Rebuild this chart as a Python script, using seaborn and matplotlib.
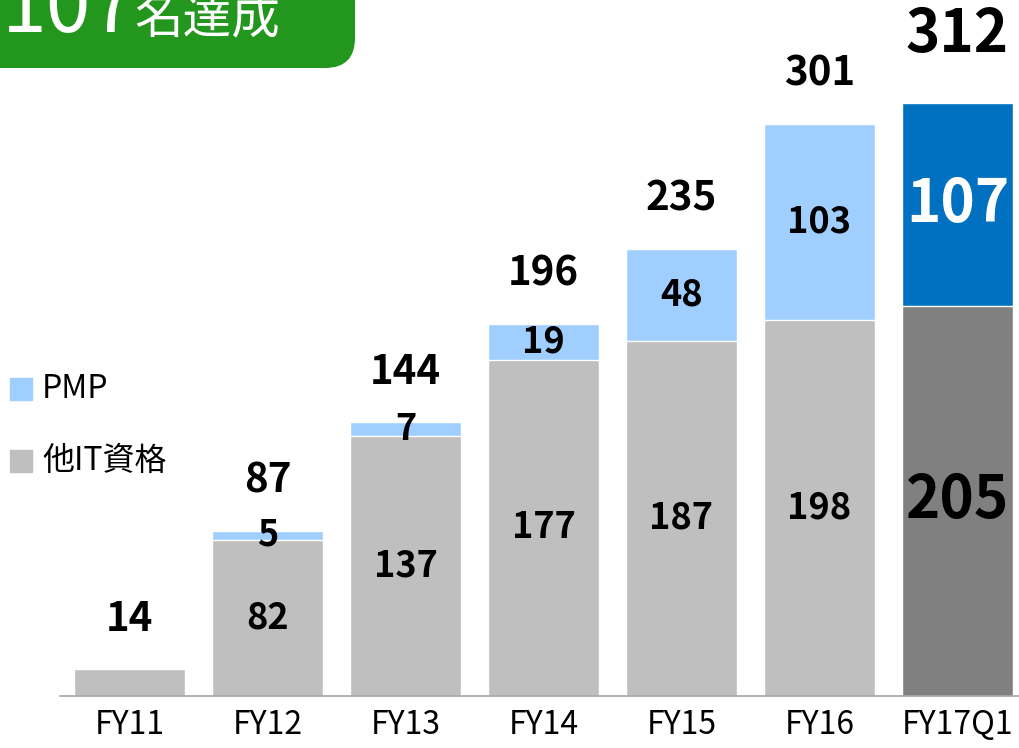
import matplotlib
matplotlib.use("Agg")
import matplotlib.pyplot as plt
import seaborn as sns
from matplotlib.patches import FancyBboxPatch, Rectangle

# ------------------------------------------------------------
# DATA
# ------------------------------------------------------------
years = ["FY11", "FY12", "FY13", "FY14", "FY15", "FY16", "FY17Q1"]
other_it = [14, 82, 137, 177, 187, 198, 205]
pmp = [0, 5, 7, 19, 48, 103, 107]
totals = [o + p for o, p in zip(other_it, pmp)]

legend_labels = ["PMP", "他IT資格"]
banner_number = "107"
banner_text = "名達成"

# colours (last bar highlighted)
pmp_colors = ["#A0CFFF"] * 6 + ["#0070C0"]
other_colors = ["#BFBFBF"] * 6 + ["#808080"]

sns.set_theme(style="white")
plt.rcParams["font.family"] = ["Noto Sans CJK JP", "DejaVu Sans"]

fig = plt.figure(figsize=(10.19, 7.48), dpi=100)
ax = fig.add_axes([60 / 1019, 1 - 696 / 748, 959 / 1019, 696 / 748])

# stacked bars: total first (PMP colour), then other IT on top of it
sns.barplot(x=years, y=totals, hue=years, palette=pmp_colors,
            width=0.804, saturation=1, legend=False, ax=ax)
sns.barplot(x=years, y=other_it, hue=years, palette=other_colors,
            width=0.804, saturation=1, legend=False, ax=ax)

ax.set_xlim(-0.504, 6.446)
ax.set_ylim(0, 366.3)
ax.set_yticks([])
ax.set_ylabel("")
for s in ["left", "right", "top"]:
    ax.spines[s].set_visible(False)
ax.spines["bottom"].set_color("#A6A6A6")
ax.spines["bottom"].set_linewidth(1.2)
ax.tick_params(axis="x", length=0, pad=9, labelsize=23, labelcolor="black")

# ------------------------------------------------------------
# LABELS
# ------------------------------------------------------------
last = len(years) - 1
for i, (o, p, t) in enumerate(zip(other_it, pmp, totals)):
    big = i == last
    ax.annotate(str(t), (i, t), xytext=(0, 49 if big else 36),
                textcoords="offset points", ha="center", va="center",
                fontsize=42 if big else 29, fontweight="bold", color="black")
    if p > 0:
        ax.text(i, o + p / 2, str(p), ha="center", va="center",
                fontsize=42 if big else 26, fontweight="bold",
                color="white" if big else "black")
    if i > 0:
        ax.text(i, o / 2, str(o), ha="center", va="center",
                fontsize=42 if big else 26, fontweight="bold", color="black")

# legend (manual squares)
for lab, col, ypx in zip(legend_labels, ["#A0CFFF", "#BFBFBF"], [389, 461]):
    fig.patches.append(Rectangle((10 / 1019, 1 - (ypx + 11) / 748), 22 / 1019, 22 / 748,
                                 transform=fig.transFigure, color=col))
    fig.text(42 / 1019, 1 - ypx / 748, lab, ha="left", va="center",
             fontsize=23, color="black")

# green banner in the top-left corner
banner = FancyBboxPatch((-0.5, 6.80), 4.05, 1.5,
                        boxstyle="round,pad=0,rounding_size=0.3",
                        transform=fig.dpi_scale_trans, facecolor="#23961E",
                        edgecolor="none")
fig.patches.append(banner)
fig.text(0.02, 7.16, banner_number, transform=fig.dpi_scale_trans,
         ha="left", va="baseline", fontsize=58, color="white")
fig.text(1.34, 7.16, banner_text, transform=fig.dpi_scale_trans,
         ha="left", va="baseline", fontsize=35, color="white")

fig.savefig("out.png", dpi=100)
